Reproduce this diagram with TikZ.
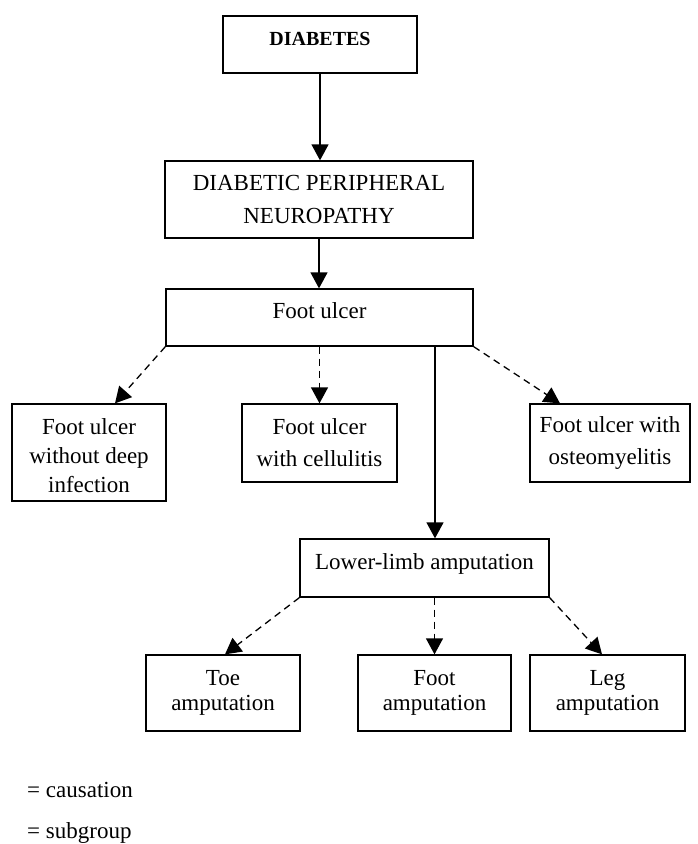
\documentclass[tikz,border=0pt]{standalone}
\usepackage{fontspec}
\setmainfont{Liberation Serif}
\usetikzlibrary{arrows.meta,calc}
\begin{document}
\begin{tikzpicture}[x=1pt,y=-1pt,
  box/.style={draw, line width=1.3pt, inner sep=0pt, align=center,
    font=\fontsize{23}{29}\selectfont},
  one/.style={text height=16pt, text depth=14pt},
  cause/.style={line width=1.3pt, -{Triangle[width=17pt,length=16pt]}},
  sub/.style={cause, dash pattern=on 7pt off 5pt},
  legend/.style={anchor=base west, inner sep=0pt, font=\fontsize{23}{28}\selectfont}
]
\useasboundingbox (0,0) rectangle (697,844);

\node[box, minimum width=194pt, minimum height=57pt, text height=14pt, text depth=13pt,
      font=\fontsize{20}{24}\selectfont\bfseries] (dia) at (320,44.5) {DIABETES};
\node[box, minimum width=308pt, minimum height=77pt, font=\fontsize{23}{33}\selectfont]
      (dpn) at (319,199.5) {DIABETIC PERIPHERAL\\NEUROPATHY};
\node[box, one, minimum width=307pt, minimum height=57pt] (fu) at (319.5,317.5) {Foot ulcer};
\node[box, minimum width=154pt, minimum height=97pt] (fuwdi) at (89,452.5)
      {\rule{0pt}{22pt}Foot ulcer\\without deep\\infection};
\node[box, minimum width=155pt, minimum height=78pt, font=\fontsize{23}{32}\selectfont]
      (cel) at (319.5,443) {Foot ulcer\\with cellulitis};
\node[box, minimum width=160pt, minimum height=78pt, font=\fontsize{23}{32}\selectfont]
      (ost) at (610,443) {Foot ulcer with\\osteomyelitis};
\node[box, one, minimum width=249pt, minimum height=58pt] (lla) at (424.5,568)
      {Lower-limb amputation};
\node[box, minimum width=154pt, minimum height=76pt, font=\fontsize{23}{25}\selectfont]
      (toe) at (223,693) {Toe\\amputation};
\node[box, minimum width=153pt, minimum height=76pt, font=\fontsize{23}{25}\selectfont]
      (foot) at (434.5,693) {Foot\\amputation};
\node[box, minimum width=155pt, minimum height=76pt, font=\fontsize{23}{25}\selectfont]
      (leg) at (607.5,693) {Leg\\amputation};

\draw[cause] (dia.south) -- (dia.south |- dpn.north);
\draw[cause] (dpn.south) -- (dpn.south |- fu.north);
\draw[sub] (fu.south west) -- ([xshift=26pt]fuwdi.north);
\draw[sub] (fu.south) -- (fu.south |- cel.north);
\draw[sub] (fu.south east) -- ([xshift=-50pt]ost.north);
\draw[cause] ([xshift=115.5pt]fu.south) -- ([xshift=115.5pt]fu.south |- lla.north);
\draw[sub] (lla.south west) -- ([xshift=2pt]toe.north);
\draw[sub] (foot.north |- lla.south) -- (foot.north);
\draw[sub] (lla.south east) -- ([xshift=-5.5pt]leg.north);

\node[legend] (l1) at (27,797) {= causation};
\node[legend] (l2) at (27,838) {= subgroup};
\end{tikzpicture}
\end{document}
